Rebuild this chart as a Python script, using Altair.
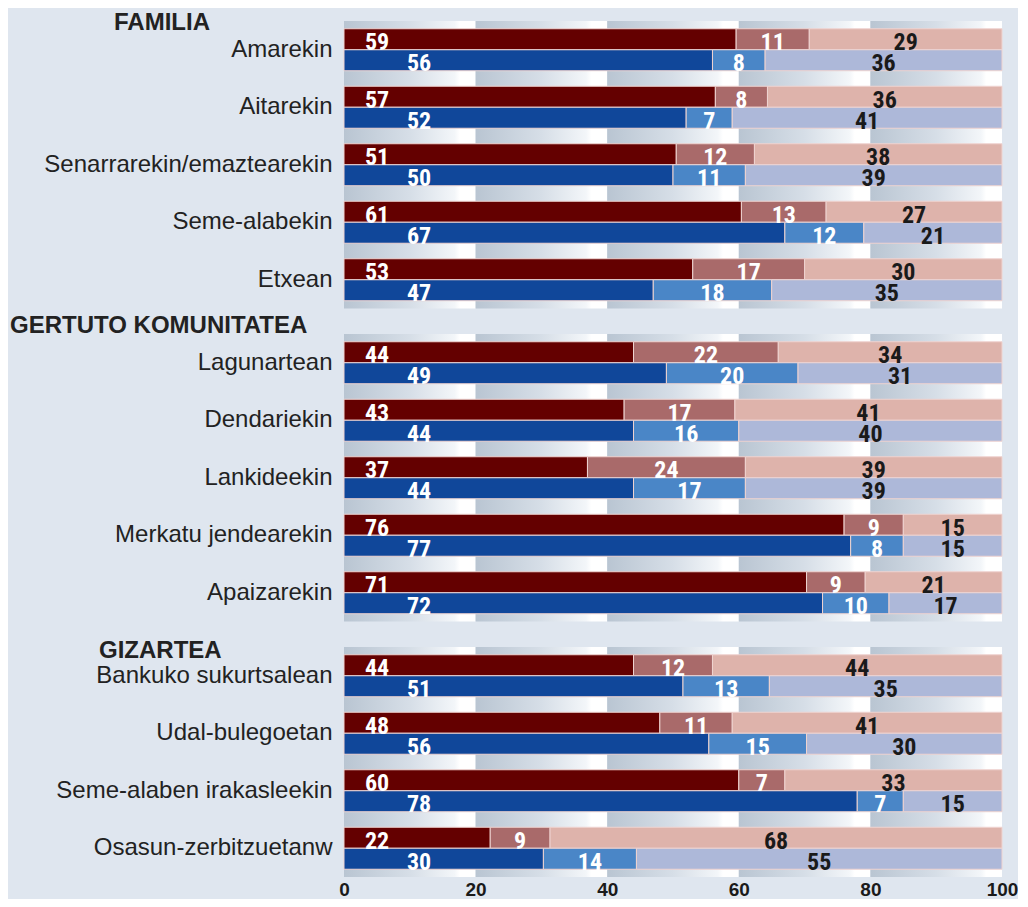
import altair as alt
import pandas as pd

# ---------------- data ----------------
groups = ["FAMILIA", "GERTUTO KOMUNITATEA", "GIZARTEA"]
categories = [
    "Amarekin", "Aitarekin", "Senarrarekin/emaztearekin", "Seme-alabekin", "Etxean",
    "Lagunartean", "Dendariekin", "Lankideekin", "Merkatu jendearekin", "Apaizarekin",
    "Bankuko sukurtsalean", "Udal-bulegoetan", "Seme-alaben irakasleekin", "Osasun-zerbitzuetanw",
]
category_group = [0, 0, 0, 0, 0, 1, 1, 1, 1, 1, 2, 2, 2, 2]

series_names = ["serie1", "serie2"]
# series 1 (red bars): three stacked parts
s1_part1 = [59, 57, 51, 61, 53, 44, 43, 37, 76, 71, 44, 48, 60, 22]
s1_part2 = [11, 8, 12, 13, 17, 22, 17, 24, 9, 9, 12, 11, 7, 9]
s1_part3 = [29, 36, 38, 27, 30, 34, 41, 39, 15, 21, 44, 41, 33, 68]
# series 2 (blue bars)
s2_part1 = [56, 52, 50, 67, 47, 49, 44, 44, 77, 72, 51, 56, 78, 30]
s2_part2 = [8, 7, 11, 12, 18, 20, 16, 17, 8, 10, 13, 15, 7, 14]
s2_part3 = [36, 41, 39, 21, 35, 31, 40, 39, 15, 17, 35, 30, 15, 55]

x_ticks = [0, 20, 40, 60, 80, 100]

# ---------------- styling ----------------
keys = ["serie1-0", "serie1-1", "serie1-2", "serie2-0", "serie2-1", "serie2-2"]
key_colors = ["#640000", "#a96a6a", "#deb3ab", "#10479a", "#4a86c7", "#adb8d9"]
BG = "#dfe6ef"
LABEL_FONT = "Liberation Sans, Arial, sans-serif"
NUM_FONT = "Liberation Sans Narrow, Arial Narrow, Roboto Condensed, Roboto, sans-serif"
STEP = 57.5
header_pos = [(-230, 2), (-334, -8), (-245, 4)]

rows = []
parts = {
    "serie1": [s1_part1, s1_part2, s1_part3],
    "serie2": [s2_part1, s2_part2, s2_part3],
}
for i, cat in enumerate(categories):
    for s in series_names:
        for seg in range(3):
            rows.append({
                "cat": cat,
                "group": category_group[i],
                "series": s,
                "seg": seg,
                "value": parts[s][seg][i],
                "key": f"{s}-{seg}",
            })
df = pd.DataFrame(rows)

stripes = pd.DataFrame({
    "x0": [t / 100 for t in x_ticks[:-1]],
    "x1": [t / 100 for t in x_ticks[1:]],
})

gradient = {
    "gradient": "linear",
    "x1": 0, "x2": 1, "y1": 0, "y2": 0,
    "stops": [
        {"offset": 0.0, "color": "#b9c5d2"},
        {"offset": 0.5, "color": "#d6dee7"},
        {"offset": 0.84, "color": "#f3f6f9"},
        {"offset": 0.88, "color": "#ffffff"},
        {"offset": 1.0, "color": "#ffffff"},
    ],
}


def panel(gi, show_x):
    cats = [c for c, g in zip(categories, category_group) if g == gi]
    sub = df[df["group"] == gi]
    h = STEP * len(cats)

    yenc = alt.Y(
        "cat:N",
        sort=cats,
        scale=alt.Scale(domain=cats, paddingInner=0.27, paddingOuter=0.135),
        axis=alt.Axis(
            title=None, ticks=False, domain=False, labelFontSize=24,
            labelFont=LABEL_FONT, labelColor="#222222", labelPadding=12,
            labelLimit=500,
        ),
    )
    yoff = alt.YOffset("series:N", sort=series_names,
                       scale=alt.Scale(domain=series_names))
    if show_x:
        xaxis = alt.Axis(
            values=[t / 100 for t in x_ticks], labelExpr="round(datum.value*100)",
            title=None, ticks=False, domain=False, grid=False, labelFlush=False,
            labelFontSize=19, labelFontWeight="bold", labelFont=LABEL_FONT,
            labelColor="#1a1a1a", labelPadding=3,
        )
    else:
        xaxis = None
    xscale = alt.Scale(domain=[0, 1], nice=False)

    stripe_layer = alt.Chart(stripes).mark_rect(fill=gradient).encode(
        x=alt.X("x0:Q", scale=xscale, axis=xaxis),
        x2="x1:Q",
    )

    base = alt.Chart(sub).transform_stack(
        stack="value",
        groupby=["cat", "series"],
        sort=[alt.SortField("seg", order="ascending")],
        offset="normalize",
        as_=["x0", "x1"],
    ).transform_calculate(mid="(datum.x0 + datum.x1) / 2")

    bars = base.mark_bar(stroke="#efd3d0", strokeWidth=1).encode(
        y=yenc,
        yOffset=yoff,
        x=alt.X("x0:Q", scale=xscale, axis=xaxis),
        x2="x1:Q",
        color=alt.Color("key:N", scale=alt.Scale(domain=keys, range=key_colors),
                        legend=None),
    )

    txt = dict(font=NUM_FONT, fontSize=24, fontWeight="bold",
               baseline="middle", align="center", dy=4)

    mid_labels = base.transform_filter("datum.seg > 0").mark_text(**txt).encode(
        y=yenc,
        yOffset=yoff,
        x=alt.X("mid:Q", scale=xscale, axis=xaxis),
        text="value:Q",
        color=alt.condition("datum.seg == 2", alt.value("#1a1a1a"),
                            alt.value("#ffffff")),
    )
    first_s1 = base.transform_filter(
        "datum.seg == 0 && datum.series == 'serie1'"
    ).mark_text(color="#ffffff", **txt).encode(
        y=yenc, yOffset=yoff, x=alt.value(33), text="value:Q"
    )
    first_s2 = base.transform_filter(
        "datum.seg == 0 && datum.series == 'serie2'"
    ).mark_text(color="#ffffff", **txt).encode(
        y=yenc, yOffset=yoff, x=alt.value(75), text="value:Q"
    )

    hx, hy = header_pos[gi]
    header = alt.Chart(pd.DataFrame({"h": [groups[gi]]})).mark_text(
        align="left", baseline="middle", fontSize=24, fontWeight="bold",
        font=LABEL_FONT, color="#222222",
    ).encode(text="h:N", x=alt.value(hx), y=alt.value(hy))

    return alt.layer(stripe_layer, bars, mid_labels, first_s1, first_s2,
                     header).properties(width=658, height=h)


chart = alt.vconcat(
    panel(0, False), panel(1, False), panel(2, True),
    spacing=25, bounds="flush",
).resolve_scale(y="independent").properties(
    padding={"left": 2, "top": 3, "right": 0, "bottom": 0},
).configure(background=BG).configure_view(stroke=None)

chart.save("out.html", embed_options={"renderer": "svg", "actions": False})
